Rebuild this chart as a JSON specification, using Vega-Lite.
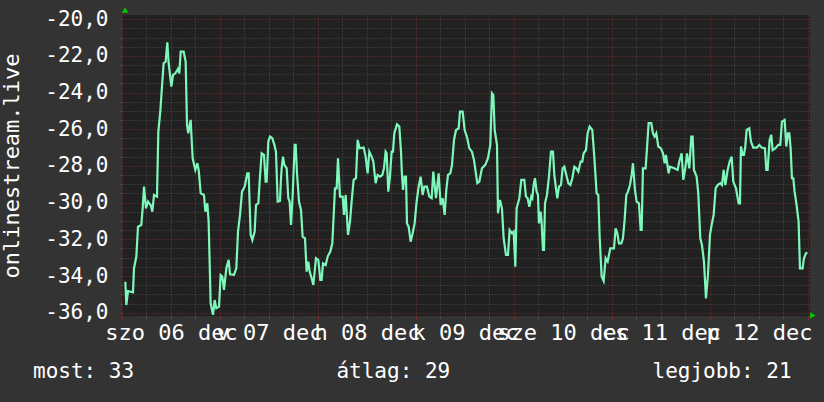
{
  "$schema": "https://vega.github.io/schema/vega-lite/v6.json",
  "width": 688,
  "height": 301,
  "autosize": {"type": "none"},
  "padding": {"left": 122, "top": 15, "right": 14, "bottom": 86},
  "background": "#333333",
  "view": {"fill": "#212121", "stroke": null},
  "title": {
    "text": "most: 33\u00a0\u00a0\u00a0\u00a0\u00a0\u00a0\u00a0\u00a0\u00a0\u00a0\u00a0\u00a0\u00a0\u00a0\u00a0\u00a0átlag: 29\u00a0\u00a0\u00a0\u00a0\u00a0\u00a0\u00a0\u00a0\u00a0\u00a0\u00a0\u00a0\u00a0\u00a0\u00a0\u00a0legjobb: 21",
    "orient": "bottom",
    "anchor": "start",
    "frame": "group",
    "dx": -89,
    "offset": 18,
    "font": "DejaVu Sans Mono",
    "fontSize": 21,
    "fontWeight": "normal",
    "color": "#ffffff"
  },
  "data": {
    "values": [
      {"t": 0.82, "v": -34.31}, {"t": 1.06, "v": -35.58}, {"t": 1.47, "v": -34.82}, {"t": 2.69, "v": -34.89},
      {"t": 2.94, "v": -33.58}, {"t": 3.51, "v": -32.94}, {"t": 3.92, "v": -31.31}, {"t": 4.73, "v": -31.22},
      {"t": 5.06, "v": -30.31}, {"t": 5.39, "v": -29.13}, {"t": 5.88, "v": -30.31}, {"t": 6.37, "v": -29.94},
      {"t": 7.02, "v": -30.13}, {"t": 7.43, "v": -30.49}, {"t": 7.84, "v": -29.58}, {"t": 8.57, "v": -29.67},
      {"t": 8.9, "v": -26.13}, {"t": 9.39, "v": -25.0}, {"t": 9.71, "v": -23.95}, {"t": 10.2, "v": -22.4},
      {"t": 10.69, "v": -22.31}, {"t": 11.1, "v": -21.26}, {"t": 11.43, "v": -22.4}, {"t": 11.67, "v": -22.86},
      {"t": 12.08, "v": -23.67}, {"t": 12.49, "v": -23.04}, {"t": 13.06, "v": -22.95}, {"t": 13.71, "v": -22.71},
      {"t": 14.04, "v": -22.95}, {"t": 14.37, "v": -21.77}, {"t": 15.1, "v": -21.77}, {"t": 15.59, "v": -22.31},
      {"t": 15.92, "v": -25.76}, {"t": 16.24, "v": -26.22}, {"t": 16.57, "v": -25.76}, {"t": 16.82, "v": -25.49},
      {"t": 16.98, "v": -26.22}, {"t": 17.31, "v": -27.58}, {"t": 17.96, "v": -28.22}, {"t": 18.45, "v": -27.85},
      {"t": 18.78, "v": -28.22}, {"t": 19.27, "v": -29.49}, {"t": 20.08, "v": -29.58}, {"t": 20.41, "v": -30.49},
      {"t": 20.9, "v": -30.04}, {"t": 21.22, "v": -31.03}, {"t": 21.71, "v": -35.49}, {"t": 22.29, "v": -36.12},
      {"t": 22.69, "v": -35.31}, {"t": 23.1, "v": -35.76}, {"t": 23.76, "v": -35.67}, {"t": 24.16, "v": -33.94},
      {"t": 24.57, "v": -34.03}, {"t": 24.98, "v": -34.76}, {"t": 25.55, "v": -33.58}, {"t": 26.12, "v": -33.12},
      {"t": 26.45, "v": -33.91}, {"t": 27.43, "v": -33.94}, {"t": 28.0, "v": -33.58}, {"t": 28.41, "v": -31.58},
      {"t": 28.9, "v": -30.67}, {"t": 29.39, "v": -29.4}, {"t": 30.04, "v": -29.13}, {"t": 30.69, "v": -28.4},
      {"t": 31.02, "v": -28.4}, {"t": 31.51, "v": -31.76}, {"t": 31.92, "v": -32.04}, {"t": 32.49, "v": -31.58},
      {"t": 32.82, "v": -30.13}, {"t": 33.39, "v": -30.03}, {"t": 33.71, "v": -28.85}, {"t": 34.2, "v": -27.31},
      {"t": 34.78, "v": -27.4}, {"t": 35.18, "v": -28.85}, {"t": 35.43, "v": -28.85}, {"t": 35.84, "v": -26.67},
      {"t": 36.24, "v": -26.4}, {"t": 36.82, "v": -26.49}, {"t": 37.31, "v": -26.85}, {"t": 37.71, "v": -27.22},
      {"t": 38.12, "v": -29.94}, {"t": 38.69, "v": -29.91}, {"t": 38.94, "v": -28.67}, {"t": 39.1, "v": -28.13},
      {"t": 39.43, "v": -27.49}, {"t": 39.76, "v": -27.94}, {"t": 40.33, "v": -28.13}, {"t": 40.73, "v": -29.76},
      {"t": 41.06, "v": -29.94}, {"t": 41.39, "v": -31.22}, {"t": 41.8, "v": -29.58}, {"t": 42.29, "v": -26.85},
      {"t": 42.53, "v": -26.85}, {"t": 42.86, "v": -28.4}, {"t": 43.35, "v": -29.94}, {"t": 43.84, "v": -30.4},
      {"t": 44.24, "v": -31.85}, {"t": 44.82, "v": -31.94}, {"t": 45.22, "v": -33.76}, {"t": 45.63, "v": -33.22},
      {"t": 45.96, "v": -33.76}, {"t": 46.45, "v": -34.12}, {"t": 46.86, "v": -34.49}, {"t": 47.51, "v": -33.03},
      {"t": 48.08, "v": -33.12}, {"t": 48.57, "v": -34.21}, {"t": 48.9, "v": -34.21}, {"t": 49.22, "v": -33.31},
      {"t": 49.88, "v": -33.4}, {"t": 50.37, "v": -32.94}, {"t": 51.02, "v": -32.67}, {"t": 51.51, "v": -32.22},
      {"t": 52.16, "v": -29.22}, {"t": 52.57, "v": -29.22}, {"t": 52.9, "v": -27.58}, {"t": 53.39, "v": -29.67},
      {"t": 54.04, "v": -29.67}, {"t": 54.37, "v": -30.67}, {"t": 54.78, "v": -29.58}, {"t": 55.35, "v": -31.76},
      {"t": 55.84, "v": -31.04}, {"t": 56.24, "v": -29.94}, {"t": 56.73, "v": -28.76}, {"t": 57.31, "v": -28.67},
      {"t": 57.71, "v": -26.58}, {"t": 58.2, "v": -27.04}, {"t": 59.18, "v": -27.0}, {"t": 59.67, "v": -27.49},
      {"t": 60.16, "v": -28.4}, {"t": 60.57, "v": -27.22}, {"t": 61.14, "v": -27.49}, {"t": 61.55, "v": -27.76},
      {"t": 62.12, "v": -28.94}, {"t": 62.61, "v": -28.49}, {"t": 63.27, "v": -28.58}, {"t": 63.76, "v": -28.49},
      {"t": 64.16, "v": -28.13}, {"t": 64.57, "v": -27.22}, {"t": 64.82, "v": -27.31}, {"t": 65.22, "v": -29.4},
      {"t": 65.63, "v": -28.58}, {"t": 66.04, "v": -27.22}, {"t": 66.37, "v": -27.22}, {"t": 66.69, "v": -26.22},
      {"t": 67.35, "v": -25.73}, {"t": 67.92, "v": -25.85}, {"t": 68.33, "v": -27.22}, {"t": 68.57, "v": -28.49},
      {"t": 68.82, "v": -29.31}, {"t": 69.22, "v": -28.58}, {"t": 69.55, "v": -28.58}, {"t": 69.8, "v": -31.13},
      {"t": 70.2, "v": -31.31}, {"t": 70.69, "v": -32.13}, {"t": 71.18, "v": -31.67}, {"t": 71.67, "v": -31.13},
      {"t": 72.16, "v": -29.94}, {"t": 72.65, "v": -29.13}, {"t": 73.14, "v": -28.58}, {"t": 73.63, "v": -29.58},
      {"t": 74.04, "v": -29.13}, {"t": 74.69, "v": -29.13}, {"t": 75.27, "v": -29.67}, {"t": 75.84, "v": -29.76},
      {"t": 76.24, "v": -28.31}, {"t": 76.9, "v": -29.76}, {"t": 77.55, "v": -28.4}, {"t": 78.04, "v": -30.13},
      {"t": 78.53, "v": -29.76}, {"t": 79.02, "v": -30.67}, {"t": 79.43, "v": -29.31}, {"t": 79.84, "v": -28.49},
      {"t": 80.41, "v": -28.4}, {"t": 80.82, "v": -27.94}, {"t": 81.31, "v": -26.58}, {"t": 81.8, "v": -26.04},
      {"t": 82.45, "v": -25.95}, {"t": 82.78, "v": -25.04}, {"t": 83.43, "v": -25.04}, {"t": 83.92, "v": -26.04},
      {"t": 84.57, "v": -26.49}, {"t": 85.06, "v": -27.04}, {"t": 85.71, "v": -27.22}, {"t": 86.2, "v": -27.67},
      {"t": 87.02, "v": -28.94}, {"t": 87.51, "v": -28.85}, {"t": 88.16, "v": -28.13}, {"t": 88.98, "v": -27.94},
      {"t": 89.63, "v": -27.58}, {"t": 90.2, "v": -26.85}, {"t": 90.61, "v": -24.04}, {"t": 90.94, "v": -24.13},
      {"t": 91.27, "v": -26.04}, {"t": 91.84, "v": -26.85}, {"t": 92.08, "v": -30.58}, {"t": 92.57, "v": -29.85},
      {"t": 93.06, "v": -30.31}, {"t": 93.47, "v": -31.94}, {"t": 94.04, "v": -32.85}, {"t": 94.53, "v": -32.85},
      {"t": 94.94, "v": -31.49}, {"t": 95.51, "v": -31.67}, {"t": 95.92, "v": -31.58}, {"t": 96.33, "v": -33.49},
      {"t": 96.65, "v": -30.31}, {"t": 97.31, "v": -29.76}, {"t": 97.8, "v": -28.76}, {"t": 98.53, "v": -28.76},
      {"t": 98.94, "v": -29.67}, {"t": 99.35, "v": -29.76}, {"t": 99.76, "v": -30.22}, {"t": 100.24, "v": -29.67},
      {"t": 100.49, "v": -29.76}, {"t": 100.82, "v": -29.04}, {"t": 101.14, "v": -28.67}, {"t": 101.55, "v": -29.4},
      {"t": 101.88, "v": -29.58}, {"t": 102.12, "v": -31.13}, {"t": 102.53, "v": -30.49}, {"t": 102.78, "v": -31.13},
      {"t": 103.1, "v": -32.58}, {"t": 103.35, "v": -32.58}, {"t": 103.59, "v": -30.04}, {"t": 104.08, "v": -29.58},
      {"t": 104.57, "v": -28.58}, {"t": 105.06, "v": -27.22}, {"t": 105.55, "v": -27.22}, {"t": 105.88, "v": -28.49},
      {"t": 106.29, "v": -29.22}, {"t": 106.61, "v": -29.76}, {"t": 107.02, "v": -29.13}, {"t": 107.51, "v": -29.04},
      {"t": 107.92, "v": -28.13}, {"t": 108.33, "v": -28.04}, {"t": 108.82, "v": -28.49}, {"t": 109.31, "v": -28.94},
      {"t": 109.8, "v": -29.04}, {"t": 110.29, "v": -28.67}, {"t": 110.78, "v": -28.04}, {"t": 111.27, "v": -28.13},
      {"t": 111.76, "v": -28.31}, {"t": 112.33, "v": -27.76}, {"t": 112.73, "v": -27.76}, {"t": 113.06, "v": -27.31},
      {"t": 113.63, "v": -27.13}, {"t": 114.04, "v": -26.22}, {"t": 114.53, "v": -25.85}, {"t": 115.18, "v": -26.04},
      {"t": 115.67, "v": -27.49}, {"t": 116.24, "v": -29.49}, {"t": 116.65, "v": -29.58}, {"t": 116.98, "v": -31.85},
      {"t": 117.47, "v": -34.03}, {"t": 117.96, "v": -34.27}, {"t": 118.45, "v": -33.03}, {"t": 118.94, "v": -33.21},
      {"t": 119.59, "v": -32.49}, {"t": 120.49, "v": -32.49}, {"t": 120.9, "v": -31.4}, {"t": 121.31, "v": -31.67},
      {"t": 121.71, "v": -32.22}, {"t": 122.29, "v": -32.22}, {"t": 122.69, "v": -31.94}, {"t": 123.1, "v": -30.94},
      {"t": 123.51, "v": -29.58}, {"t": 123.92, "v": -29.4}, {"t": 124.41, "v": -29.04}, {"t": 124.82, "v": -28.49},
      {"t": 125.14, "v": -27.85}, {"t": 125.63, "v": -29.31}, {"t": 126.04, "v": -29.94}, {"t": 126.61, "v": -30.04},
      {"t": 127.02, "v": -31.49}, {"t": 127.27, "v": -31.49}, {"t": 127.59, "v": -28.13}, {"t": 128.24, "v": -28.13},
      {"t": 128.57, "v": -27.04}, {"t": 128.98, "v": -25.67}, {"t": 129.63, "v": -25.67}, {"t": 130.04, "v": -26.22},
      {"t": 130.45, "v": -26.4}, {"t": 130.86, "v": -26.22}, {"t": 131.35, "v": -26.94}, {"t": 132.0, "v": -27.04},
      {"t": 132.49, "v": -27.31}, {"t": 132.9, "v": -27.85}, {"t": 133.22, "v": -27.4}, {"t": 133.88, "v": -28.4},
      {"t": 134.2, "v": -28.04}, {"t": 135.27, "v": -28.13}, {"t": 136.08, "v": -28.22}, {"t": 136.49, "v": -27.76},
      {"t": 137.06, "v": -27.31}, {"t": 137.47, "v": -28.76}, {"t": 137.96, "v": -28.13}, {"t": 138.37, "v": -27.31},
      {"t": 138.94, "v": -28.13}, {"t": 139.43, "v": -26.4}, {"t": 139.76, "v": -26.4}, {"t": 140.08, "v": -28.22},
      {"t": 140.73, "v": -28.58}, {"t": 141.14, "v": -29.49}, {"t": 141.63, "v": -31.94}, {"t": 142.04, "v": -32.31},
      {"t": 142.53, "v": -33.21}, {"t": 143.02, "v": -35.22}, {"t": 143.51, "v": -33.94}, {"t": 144.0, "v": -31.76},
      {"t": 144.41, "v": -31.22}, {"t": 144.9, "v": -30.67}, {"t": 145.39, "v": -29.22}, {"t": 145.88, "v": -29.04},
      {"t": 146.53, "v": -28.94}, {"t": 146.94, "v": -29.04}, {"t": 147.35, "v": -28.22}, {"t": 147.76, "v": -29.04},
      {"t": 148.33, "v": -28.22}, {"t": 148.82, "v": -27.76}, {"t": 149.31, "v": -27.49}, {"t": 149.71, "v": -28.85},
      {"t": 150.37, "v": -29.22}, {"t": 151.02, "v": -30.04}, {"t": 151.35, "v": -30.04}, {"t": 151.59, "v": -26.94},
      {"t": 152.0, "v": -27.4}, {"t": 152.33, "v": -27.4}, {"t": 152.65, "v": -26.94}, {"t": 152.98, "v": -26.04},
      {"t": 153.63, "v": -25.95}, {"t": 154.04, "v": -26.67}, {"t": 154.61, "v": -27.0}, {"t": 155.51, "v": -27.0},
      {"t": 156.08, "v": -26.85}, {"t": 156.65, "v": -27.0}, {"t": 157.47, "v": -27.04}, {"t": 157.8, "v": -28.22},
      {"t": 158.12, "v": -28.22}, {"t": 158.61, "v": -26.58}, {"t": 159.02, "v": -26.31}, {"t": 159.35, "v": -27.13},
      {"t": 160.0, "v": -27.04}, {"t": 160.73, "v": -26.85}, {"t": 161.22, "v": -26.85}, {"t": 161.63, "v": -25.58},
      {"t": 162.29, "v": -25.49}, {"t": 162.69, "v": -26.94}, {"t": 163.1, "v": -26.22}, {"t": 163.43, "v": -26.22},
      {"t": 163.76, "v": -27.04}, {"t": 164.08, "v": -28.67}, {"t": 164.41, "v": -28.67}, {"t": 164.73, "v": -29.4},
      {"t": 165.22, "v": -30.13}, {"t": 165.71, "v": -31.04}, {"t": 166.04, "v": -33.58}, {"t": 166.69, "v": -33.58},
      {"t": 167.02, "v": -33.03}, {"t": 167.51, "v": -32.76}, {"t": 167.84, "v": -32.72}
    ]
  },
  "layer": [
    {
      "mark": {"type": "line", "color": "#7ef7bb", "strokeWidth": 2.2, "interpolate": "linear", "clip": true},
      "encoding": {
        "x": {
          "field": "t",
          "type": "quantitative",
          "scale": {"domain": [0, 168.5], "nice": false, "zero": false},
          "axis": {
            "title": null,
            "tickCount": 200,
            "values": [0, 6, 12, 18, 24, 30, 36, 42, 48, 54, 60, 66, 72, 78, 84, 90, 96, 102, 108, 114, 120, 126, 132, 138, 144, 150, 156, 162, 168],
            "labelExpr": "datum.value % 24 === 12 ? ['szo 06 dec','v 07 dec','h 08 dec','k 09 dec','sze 10 dec','cs 11 dec','p 12 dec'][floor(datum.value / 24)] : ''",
            "labelOverlap": false,
            "labelFlush": false,
            "labelAngle": 0,
            "labelPadding": 3,
            "labelFontSize": 22,
            "tickSize": 3,
            "gridColor": {"condition": {"test": "datum.value % 24 === 0", "value": "#7e2f2f"}, "value": "#4e4e4e"},
            "tickColor": {"condition": {"test": "datum.value % 24 === 0", "value": "#7e2f2f"}, "value": "#4e4e4e"}
          }
        },
        "y": {
          "field": "v",
          "type": "quantitative",
          "scale": {"domain": [-36.18, -19.77], "nice": false, "zero": false},
          "axis": {
            "title": "onlinestream.live",
            "titleFontSize": 22,
            "titlePadding": 21,
            "tickCount": 200,
            "values": [-36, -35.5, -35, -34.5, -34, -33.5, -33, -32.5, -32, -31.5, -31, -30.5, -30, -29.5, -29, -28.5, -28, -27.5, -27, -26.5, -26, -25.5, -25, -24.5, -24, -23.5, -23, -22.5, -22, -21.5, -21, -20.5, -20],
            "labelExpr": "datum.value % 2 === 0 ? (datum.value < 0 ? '-' : '') + replace(format(abs(datum.value), '.1f'), '.', ',') : ''",
            "labelOverlap": false,
            "labelFlush": false,
            "labelPadding": 12,
            "tickSize": 2,
            "gridColor": {"condition": {"test": "datum.value % 2 === 0", "value": "#7e2f2f"}, "value": "#4e4e4e"},
            "tickColor": {"condition": {"test": "datum.value % 2 === 0", "value": "#7e2f2f"}, "value": "#4e4e4e"}
          }
        }
      }
    },
    {
      "data": {"values": [{}]},
      "mark": {"type": "point", "shape": "triangle-up", "filled": true, "color": "#00cc00", "size": 40, "opacity": 1},
      "encoding": {"x": {"datum": 0.75}, "y": {"datum": -19.5}}
    },
    {
      "data": {"values": [{}]},
      "mark": {"type": "point", "shape": "triangle-right", "filled": true, "color": "#00cc00", "size": 40, "opacity": 1},
      "encoding": {"x": {"datum": 169.2}, "y": {"datum": -36.15}}
    }
  ],
  "config": {
    "axis": {
      "domain": false,
      "grid": true,
      "gridDash": [1, 2],
      "gridWidth": 1,
      "gridOpacity": 1,
      "ticks": true,
      "labelOverlap": false,
      "labelFont": "DejaVu Sans Mono",
      "labelFontSize": 21,
      "labelColor": "#ffffff",
      "titleFont": "DejaVu Sans Mono",
      "titleFontSize": 21,
      "titleFontWeight": "normal",
      "titleColor": "#ffffff"
    }
  }
}
